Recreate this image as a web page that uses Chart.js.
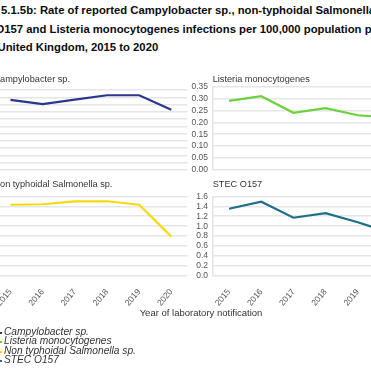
<!DOCTYPE html>
<html><head><meta charset="utf-8">
<script src="https://cdn.jsdelivr.net/npm/chart.js@4.4.1/dist/chart.umd.min.js"></script>
<style>
html,body{margin:0;padding:0;width:371px;height:370px;overflow:hidden;background:#fff;}
#wrap{position:relative;width:371px;height:370px;overflow:hidden;}
canvas{position:absolute;}
.t{position:absolute;white-space:nowrap;font-family:"Liberation Sans",Arial,sans-serif;}
.title{font-weight:bold;font-size:11.3px;line-height:18.5px;color:#0b0c0c;}
.ptitle{font-size:9.2px;line-height:11px;color:#333;}
.xtitle{font-size:9.5px;line-height:11px;color:#333;}
.leg{font-size:10.2px;line-height:10px;font-style:italic;color:#333;}
.mk{position:absolute;width:10px;height:2px;left:-8px;}
</style></head>
<body><div id="wrap">
<div class="t title" style="left:1px;top:1px;">5.1.5b: Rate of reported Campylobacter sp., non-typhoidal Salmonella sp., STEC</div>
<div class="t title" style="left:-4.5px;top:19.5px;">O157 and Listeria monocytogenes infections per 100,000 population per year,</div>
<div class="t title" style="left:-2.5px;top:38px;">United Kingdom, 2015 to 2020</div>
<canvas id="c0" width="270" height="110" style="left:-80px;top:70px;"></canvas>
<canvas id="c1" width="262" height="110" style="left:150px;top:70px;"></canvas>
<canvas id="c2" width="270" height="135" style="left:-80px;top:180px;"></canvas>
<canvas id="c3" width="262" height="135" style="left:150px;top:180px;"></canvas>
<div id="titles"></div>
<div class="t xtitle" id="xt" style="left:201px;top:307px;transform:translateX(-50%);">Year of laboratory notification</div>
<div id="legend"></div>
</div>
<script>
const years = ['2015','2016','2017','2018','2019','2020'];
const seriesNames = ['Campylobacter sp.','Listeria monocytogenes','Non typhoidal Salmonella sp.','STEC O157'];
const campylobacter = [96.4, 90.5, 96.7, 102.8, 102.8, 82.7];
const listeria = [0.29, 0.31, 0.24, 0.26, 0.23, 0.22];
const salmonella = [14.3, 14.4, 15.0, 15.0, 14.3, 7.9];
const stec = [1.35, 1.49, 1.17, 1.26, 1.08, 0.87];
// y axis [min, max, step, decimals]
const campyAxis = [0, 110, 10, 0];
const listeriaAxis = [0, 0.35, 0.05, 2];
const salmonellaAxis = [0, 16, 2, 0];
const stecAxis = [0, 1.6, 0.2, 1];
const colors = ['#2c368a', '#6dd13f', '#f7da0a', '#1d6f88'];

const FONT = '"Liberation Sans", Arial, sans-serif';

function panel(id, values, color, axis, g, showX) {
  new Chart(document.getElementById(id), {
    type: 'line',
    data: { labels: years, datasets: [{ data: values, borderColor: color, borderWidth: 2.2,
      pointRadius: 0, fill: false, tension: 0 }] },
    options: {
      responsive: false, animation: false, devicePixelRatio: 1,
      layout: { padding: { left: 0, right: g.padR, top: g.padT, bottom: g.padB } },
      plugins: { legend: { display: false }, tooltip: { enabled: false }, title: { display: false } },
      scales: {
        x: { type: 'category', offset: true,
          grid: { display: false }, border: { display: false },
          ticks: { display: showX, minRotation: 50, maxRotation: 50, autoSkip: false,
            font: { size: 8.5, family: FONT }, color: '#555', padding: 3 },
          afterFit: s => { s.height = g.xH; } },
        y: { min: axis[0], max: axis[1],
          grid: { color: '#e6e6e6', lineWidth: 1.5, drawTicks: false },
          border: { display: true, color: '#e3e3e3', width: 1.5 },
          ticks: { stepSize: axis[2], autoSkip: false, padding: 5, font: { size: 8.5, family: FONT }, color: '#555',
            callback: v => Number(v).toFixed(axis[3]) },
          afterFit: s => { s.width = g.yW; } }
      }
    }
  });
}

panel('c0', campylobacter, colors[0], campyAxis, { yW: 74.4, padR: 2.6, padT: 20, padB: 9.3, xH: 0 }, false);
panel('c1', listeria, colors[1], listeriaAxis, { yW: 63, padR: 6, padT: 16.7, padB: 9.3, xH: 0 }, false);
panel('c2', salmonella, colors[2], salmonellaAxis, { yW: 74.4, padR: 2.6, padT: 16.3, padB: 0, xH: 39 }, true);
panel('c3', stec, colors[3], stecAxis, { yW: 63, padR: 6, padT: 16.3, padB: 0, xH: 39 }, true);

// panel titles
const titlePos = [[-6.6, 73.5], [212.7, 73.5], [-6.6, 178.5], [212.7, 178.5]];
const tDiv = document.getElementById('titles');
seriesNames.forEach((n, i) => {
  const d = document.createElement('div');
  d.className = 't ptitle';
  d.style.left = titlePos[i][0] + 'px';
  d.style.top = titlePos[i][1] + 'px';
  d.textContent = n;
  tDiv.appendChild(d);
});
// legend
const lDiv = document.getElementById('legend');
seriesNames.forEach((n, i) => {
  const top = 326.5 + i * 9.5;
  const m = document.createElement('div');
  m.className = 'mk';
  m.style.top = (top + 5) + 'px';
  m.style.background = colors[i];
  lDiv.appendChild(m);
  const d = document.createElement('div');
  d.className = 't leg';
  d.style.left = '4px';
  d.style.top = top + 'px';
  d.textContent = n;
  lDiv.appendChild(d);
});
</script>
</body></html>
